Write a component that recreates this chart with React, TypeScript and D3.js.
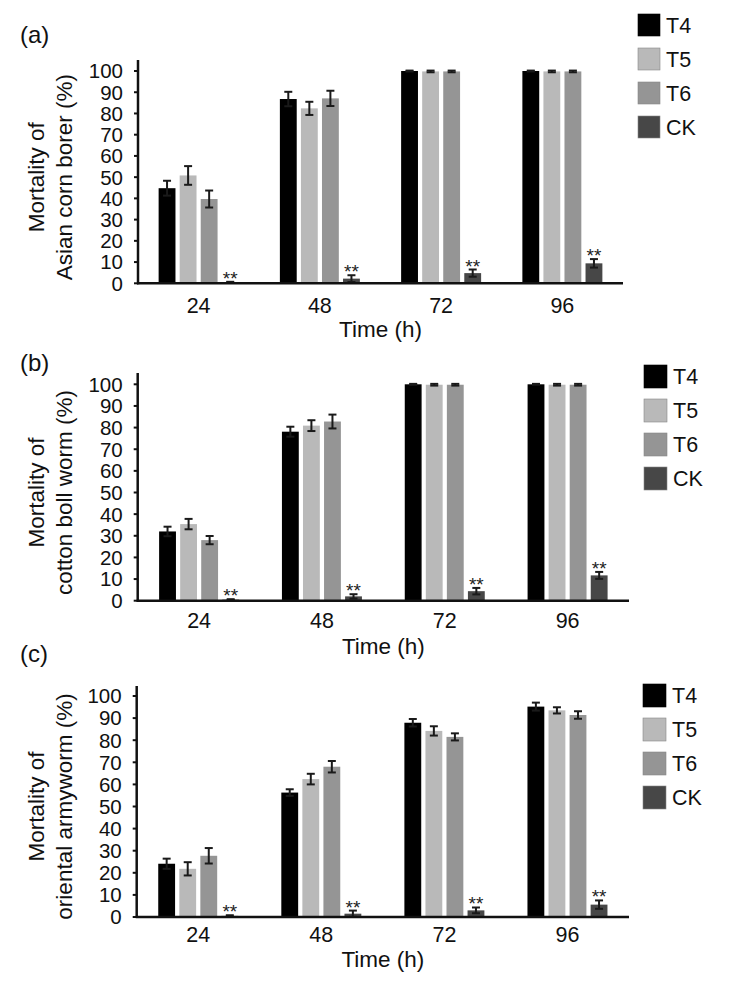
import React from "react";
import * as d3 from "d3";

const times = ["24", "48", "72", "96"];
const seriesNames = ["T4", "T5", "T6", "CK"];
const seriesColors = ["#000000", "#b9b9b9", "#959595", "#474747"];
const yTicks = [0, 10, 20, 30, 40, 50, 60, 70, 80, 90, 100];

// Panel (a) Asian corn borer
const cornT4 = [44.8, 86.8, 100, 100];
const cornT5 = [50.8, 82.4, 99.8, 99.8];
const cornT6 = [39.7, 87.1, 99.8, 99.8];
const cornCK = [0.5, 2.2, 4.8, 9.4];
const cornT4Err = [3.5, 3.4, 0.2, 0.2];
const cornT5Err = [4.4, 3.1, 0.4, 0.4];
const cornT6Err = [4.0, 3.6, 0.4, 0.4];
const cornCKErr = [0.2, 1.6, 1.7, 2.0];

// Panel (b) cotton boll worm
const cottonT4 = [32, 78.1, 100, 100];
const cottonT5 = [35.4, 80.9, 99.8, 99.8];
const cottonT6 = [28, 82.8, 99.8, 99.8];
const cottonCK = [0.5, 2.0, 4.4, 11.7];
const cottonT4Err = [2.2, 2.3, 0.2, 0.2];
const cottonT5Err = [2.4, 2.5, 0.4, 0.4];
const cottonT6Err = [1.9, 3.2, 0.4, 0.4];
const cottonCKErr = [0.2, 1.0, 1.5, 1.6];

// Panel (c) oriental armyworm
const armyT4 = [24.1, 56.3, 87.9, 95.2];
const armyT5 = [21.8, 62.4, 84.2, 93.5];
const armyT6 = [27.7, 68.0, 81.5, 91.4];
const armyCK = [0.5, 1.5, 3.0, 5.6];
const armyT4Err = [2.3, 1.5, 1.7, 1.8];
const armyT5Err = [3.0, 2.4, 2.1, 1.4];
const armyT6Err = [3.5, 2.6, 1.6, 1.7];
const armyCKErr = [0.3, 1.4, 1.3, 1.9];

const panelLabels = ["(a)", "(b)", "(c)"];
const yTitlesLine2 = ["Asian corn borer (%)", "cotton boll worm (%)", "oriental armyworm (%)"];
const yTitleLine1 = "Mortality of";
const xTitle = "Time (h)";
const sigMark = "**";

const panelValues = [
  [cornT4, cornT5, cornT6, cornCK],
  [cottonT4, cottonT5, cottonT6, cottonCK],
  [armyT4, armyT5, armyT6, armyCK],
];
const panelErrors = [
  [cornT4Err, cornT5Err, cornT6Err, cornCKErr],
  [cottonT4Err, cottonT5Err, cottonT6Err, cottonCKErr],
  [armyT4Err, armyT5Err, armyT6Err, armyCKErr],
];

// layout (pixel positions of each panel)
const layouts = [
  { left: 138, right: 623, y0: 283.3, y100: 71, top: 60, tickOff: 30, titleBase: 337, labelBase: 43, legX: 638, legY: 14, box: 22 },
  { left: 137.7, right: 629, y0: 600.7, y100: 384.3, top: 373, tickOff: 27, titleBase: 654, labelBase: 371, legX: 644, legY: 365, box: 23 },
  { left: 136.7, right: 629, y0: 917, y100: 696, top: 686, tickOff: 25, titleBase: 967, labelBase: 662, legX: 643, legY: 684, box: 23 },
];

const FONT = "'Liberation Sans', Arial, Helvetica, sans-serif";

function Panel({ idx }: { idx: number }) {
  const L = layouts[idx];
  const vals = panelValues[idx];
  const errs = panelErrors[idx];
  const y = d3.scaleLinear().domain([0, 100]).range([L.y0, L.y100]);
  const x0 = d3.scaleBand<string>().domain(times).range([L.left, L.right]).padding(0);
  const bw = x0.bandwidth();
  const groupSpan = 80;
  const x1 = d3
    .scaleBand<string>()
    .domain(seriesNames)
    .range([bw / 2 - groupSpan / 2, bw / 2 + groupSpan / 2])
    .paddingInner(0.2)
    .paddingOuter(0);
  const barW = x1.bandwidth();
  const capW = 8;
  const yMid = (L.y0 + L.y100) / 2;
  const topY = L.top;

  return (
    <g>
      <text x={20} y={L.labelBase} fontSize={24} fontFamily={FONT} fill="#111">
        {panelLabels[idx]}
      </text>
      {/* y title */}
      <text
        transform={`translate(44,${yMid}) rotate(-90)`}
        textAnchor="middle"
        fontSize={22.5}
        fontFamily={FONT}
        fill="#111"
      >
        {yTitleLine1}
      </text>
      <text
        transform={`translate(72,${yMid}) rotate(-90)`}
        textAnchor="middle"
        fontSize={22.5}
        fontFamily={FONT}
        fill="#111"
      >
        {yTitlesLine2[idx]}
      </text>
      {/* bars */}
      {times.map((t, ti) => (
        <g key={t}>
          {seriesNames.map((s, si) => {
            const v = vals[si][ti];
            const e = errs[si][ti];
            const bx = (x0(t) as number) + (x1(s) as number);
            const cx = bx + barW / 2;
            return (
              <g key={s}>
                <rect x={bx} y={y(v)} width={barW} height={L.y0 - y(v)} fill={seriesColors[si]} />
                <line x1={cx} x2={cx} y1={y(v + e)} y2={y(Math.max(0, v - e))} stroke="#1a1a1a" strokeWidth={2} />
                <line x1={cx - capW / 2} x2={cx + capW / 2} y1={y(v + e)} y2={y(v + e)} stroke="#1a1a1a" strokeWidth={2} />
                <line x1={cx - capW / 2} x2={cx + capW / 2} y1={y(Math.max(0, v - e))} y2={y(Math.max(0, v - e))} stroke="#1a1a1a" strokeWidth={2} />
                {s === "CK" && (
                  <text x={cx} y={y(v + e) + 3} textAnchor="middle" fontSize={19} fontFamily={FONT} fill="#222">
                    {sigMark}
                  </text>
                )}
              </g>
            );
          })}
          <text
            x={(x0(t) as number) + bw / 2}
            y={L.y0 + L.tickOff}
            textAnchor="middle"
            fontSize={21.5}
            fontFamily={FONT}
            fill="#111"
          >
            {t}
          </text>
        </g>
      ))}
      {/* axes */}
      <line x1={L.left} x2={L.left} y1={topY} y2={L.y0 + 1} stroke="#111" strokeWidth={2.5} />
      <line x1={L.left - 1} x2={L.right} y1={L.y0} y2={L.y0} stroke="#111" strokeWidth={2.5} />
      {yTicks.map((tk) => (
        <g key={tk}>
          <line x1={L.left - 4} x2={L.left} y1={y(tk)} y2={y(tk)} stroke="#111" strokeWidth={2} />
          <text
            x={L.left - 15}
            y={y(tk)}
            dy="0.36em"
            textAnchor="end"
            fontSize={20.5}
            fontFamily={FONT}
            fill="#111"
          >
            {tk}
          </text>
        </g>
      ))}
      <text
        x={(L.left + L.right) / 2}
        y={L.titleBase}
        textAnchor="middle"
        fontSize={22.5}
        fontFamily={FONT}
        fill="#111"
      >
        {xTitle}
      </text>
      {/* legend */}
      {seriesNames.map((s, si) => (
        <g key={s}>
          <rect
            x={L.legX}
            y={L.legY + si * 34}
            width={L.box}
            height={L.box}
            fill={seriesColors[si]}
            stroke={si === 0 ? "#000" : "#888"}
            strokeWidth={0.6}
          />
          <text
            x={L.legX + L.box + 6}
            y={L.legY + si * 34 + L.box / 2}
            dy="0.36em"
            fontSize={21.5}
            fontFamily={FONT}
            fill="#111"
          >
            {s}
          </text>
        </g>
      ))}
    </g>
  );
}

export default function App() {
  return (
    <svg
      width={743}
      height={988}
      style={{ position: "absolute", left: 0, top: 0, background: "#ffffff" }}
    >
      <rect x={0} y={0} width={743} height={988} fill="#ffffff" />
      {[0, 1, 2].map((i) => (
        <Panel key={i} idx={i} />
      ))}
    </svg>
  );
}
